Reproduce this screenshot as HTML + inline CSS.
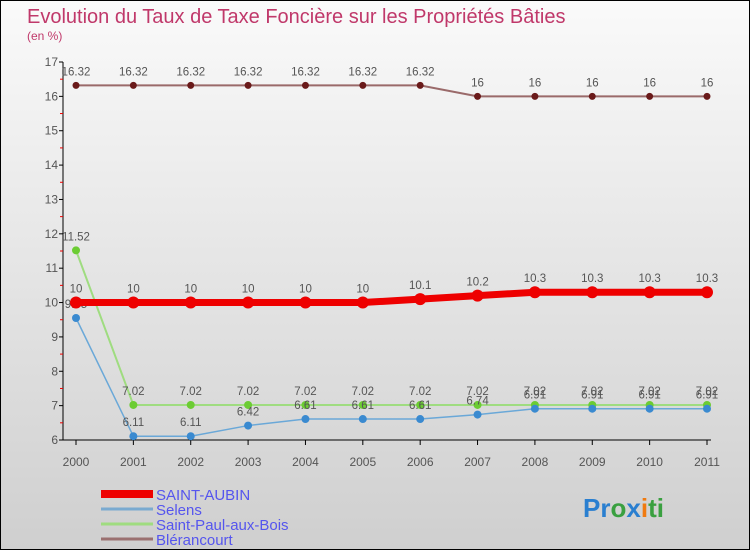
<!DOCTYPE html>
<html><head><meta charset="utf-8"><style>
body{margin:0;}
#c{width:750px;height:550px;position:relative;box-sizing:border-box;border:1px solid #000;background:linear-gradient(#fafafa,#cfcfcf);font-family:"Liberation Sans",sans-serif;overflow:hidden}
</style></head><body>
<div id="c">
<svg id="s" width="748" height="548" style="position:absolute;left:0;top:0">
<text x="26" y="22" font-size="20" fill="#c0386a">Evolution du Taux de Taxe Foncière sur les Propriétés Bâties</text>
<text x="26" y="39" font-size="12" fill="#c0386a">(en %)</text>
<g id="axes"></g><g id="series"></g><g id="legend"></g>
<text x="582" y="516" font-size="26" font-weight="bold"><tspan fill="#2a7fd0">Pr</tspan><tspan fill="#3aa040">o</tspan><tspan fill="#2a7fd0">x</tspan><tspan fill="#f07a10">i</tspan><tspan fill="#3aa040">ti</tspan></text>
</svg>
</div>
<script>
const years=["2000","2001","2002","2003","2004","2005","2006","2007","2008","2009","2010","2011"];
const yTicks=[6,7,8,9,10,11,12,13,14,15,16,17];
const saintAubin=[10,10,10,10,10,10,10.1,10.2,10.3,10.3,10.3,10.3];
const selens=[9.55,6.11,6.11,6.42,6.61,6.61,6.61,6.74,6.91,6.91,6.91,6.91];
const saintPaul=[11.52,7.02,7.02,7.02,7.02,7.02,7.02,7.02,7.02,7.02,7.02,7.02];
const blerancourt=[16.32,16.32,16.32,16.32,16.32,16.32,16.32,16,16,16,16,16];
const NS="http://www.w3.org/2000/svg";
const xS=i=>75+i*(706-75)/11;
const yS=v=>439-(v-6)*(439-61)/11;
function mk(t,a,p){const e=document.createElementNS(NS,t);for(const k in a)e.setAttribute(k,a[k]);p.appendChild(e);return e;}
const ax=document.getElementById('axes');
let e=mk('line',{x1:62,y1:61,x2:62,y2:439,stroke:'#000'},ax);


e=mk('line',{x1:62,y1:439,x2:710,y2:439,stroke:'#000'},ax);


yTicks.forEach(v=>{
 mk('line',{x1:58,x2:62,y1:yS(v),y2:yS(v),stroke:'#000'},ax);
 if(v<17)mk('line',{x1:59,x2:62,y1:yS(v+0.5),y2:yS(v+0.5),stroke:'#e00'},ax);
 const t=mk('text',{x:57,y:yS(v)+4,'font-size':12,'text-anchor':'end',fill:'#555'},ax);t.textContent=v;
 
 
});
years.forEach((y,i)=>{
 mk('line',{x1:xS(i),x2:xS(i),y1:439,y2:444,stroke:'#000'},ax);
 const t=mk('text',{x:xS(i),y:465,'font-size':12,'text-anchor':'middle',fill:'#555'},ax);t.textContent=y;
 
 
});
const sg=document.getElementById('series');
function draw(name,data,color,w,r,dot,labs){
 const g=mk('g',{},sg);
 
 
 mk('polyline',{points:data.map((v,i)=>xS(i)+','+yS(v)).join(' '),fill:'none',stroke:color,'stroke-width':w},g);
 data.forEach((v,i)=>{
  const c=mk('circle',{cx:xS(i),cy:yS(v),r:r,fill:dot},g);
  
  
  if(labs){const t=mk('text',{x:xS(i),y:yS(v)-10,'font-size':11.5,'text-anchor':'middle',fill:'#555'},g);t.textContent=String(v);
  
  }
 });
}
draw('blerancourt',blerancourt,'#9a6a6a',2,3.5,'#6a1a1a',true);
draw('saint-paul-aux-bois',saintPaul,'#9fdc80',2,4,'#6ccc33',true);
draw('selens',selens,'#6aa8d8',1.5,4,'#3a8ad0',true);
draw('saint-aubin',saintAubin,'#ee0000',7,6,'#ee0000',true);
const lg=document.getElementById('legend');
[['SAINT-AUBIN','#ee0000',8],['Selens','#7aaad0',3],['Saint-Paul-aux-Bois','#9fdc80',3],['Blérancourt','#9a7070',3]].forEach((d,i)=>{
 const y=493+i*15;
 const g=mk('g',{},lg);
 
 
 mk('line',{x1:100,x2:152,y1:y,y2:y,stroke:d[1],'stroke-width':d[2]},g);
 const t=mk('text',{x:155,y:y+6,'font-size':15,fill:'#5555ee'},g);t.textContent=d[0];
});
</script>
</body></html>
